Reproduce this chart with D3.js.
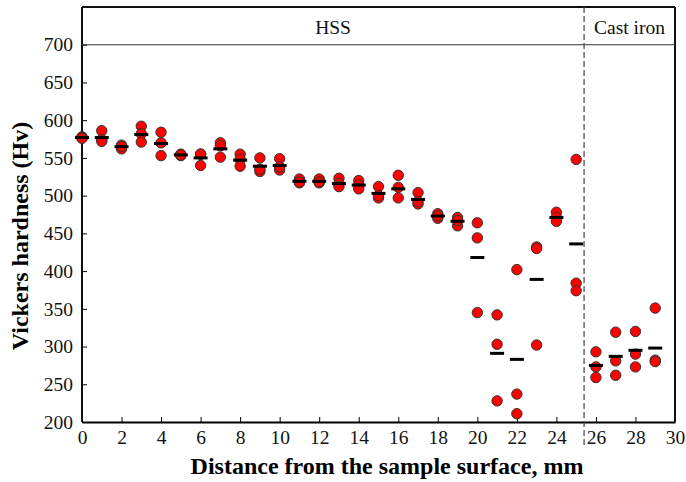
<!DOCTYPE html>
<html>
<head>
<meta charset="UTF-8">
<script src="https://cdn.jsdelivr.net/npm/d3@7/dist/d3.min.js"></script>
<style>
  body { margin: 0; background: #fff; }
  text { font-family: "Liberation Serif", "DejaVu Serif", serif; }
</style>
</head>
<body>
<svg id="chart" width="686" height="482"></svg>
<script>
// distance from surface, mm
const distance = d3.range(0, 30);
// individual hardness readings at each distance (Hv)
const readings = [
  [578, 577, 576], [586, 574, 572], [567, 562, 565], [592, 582, 571], [584, 570, 553],
  [555, 553, 554], [555, 555, 540], [570, 566, 551], [555, 548, 539], [550, 532, 535],
  [549, 534, 538], [522, 517, 518], [522, 517, 518], [523, 516, 512], [520, 514, 509],
  [512, 497, 500], [527, 511, 497], [504, 489, 492], [476, 470, 473], [471, 460, 467],
  [464, 444, 345], [342, 303, 228], [402, 237, 211], [432, 430, 302], [478, 471, 466],
  [548, 384, 374], [293, 273, 259], [319, 281, 262], [320, 290, 273], [351, 282, 280]
];
// mean bars
const meanHv = [577, 577, 565, 581, 569, 554, 550, 562, 547, 539,
                540, 519, 519, 516, 514, 503, 509, 495, 473, 466,
                418, 291, 283, 389, 471, 436, 275, 287, 295, 298];
const xTicks = d3.range(0, 31, 2);
const yTicks = d3.range(200, 701, 50);
const boundary = 25.4;   // HSS / cast iron interface
const regions = [{name: "HSS", from: 0, to: boundary}, {name: "Cast iron", from: boundary, to: 30}];

const W = 686, H = 482;
const m = {top: 7, right: 11, bottom: 60, left: 82};
const svg = d3.select("#chart");

const x = d3.scaleLinear([0, 30], [m.left, W - m.right]);
const y = d3.scaleLinear([200, 750], [H - m.bottom, m.top]);

// axes (ticks pointing inward)
svg.append("g")
  .attr("transform", `translate(0,${H - m.bottom})`)
  .call(d3.axisBottom(x).tickValues(xTicks).tickSizeInner(-5).tickSizeOuter(0).tickPadding(8))
  .call(g => g.select(".domain").attr("stroke-width", 2))
  .call(g => g.selectAll("text").attr("font-size", 19.5).attr("fill", "#111")
              .attr("font-family", "Liberation Serif"));

svg.append("g")
  .attr("transform", `translate(${m.left},0)`)
  .call(d3.axisLeft(y).tickValues(yTicks).tickSizeInner(-5).tickSizeOuter(0).tickPadding(9))
  .call(g => g.select(".domain").remove())
  .call(g => g.selectAll("text").attr("font-size", 19.5).attr("fill", "#111")
              .attr("font-family", "Liberation Serif"));

// frame
svg.append("line").attr("x1", m.left).attr("x2", m.left).attr("y1", m.top).attr("y2", H - m.bottom)
  .attr("stroke", "#111").attr("stroke-width", 2);
svg.append("line").attr("x1", W - m.right).attr("x2", W - m.right).attr("y1", m.top).attr("y2", H - m.bottom)
  .attr("stroke", "#111").attr("stroke-width", 2);
svg.append("line").attr("x1", m.left).attr("x2", W - m.right).attr("y1", m.top).attr("y2", m.top)
  .attr("stroke", "#111").attr("stroke-width", 2);
svg.append("line").attr("x1", m.left).attr("x2", W - m.right).attr("y1", y(700)).attr("y2", y(700))
  .attr("stroke", "#333").attr("stroke-width", 1.2);

// interface line
svg.append("line").attr("x1", x(boundary)).attr("x2", x(boundary))
  .attr("y1", m.top).attr("y2", H - m.bottom + 25)
  .attr("stroke", "#444").attr("stroke-width", 1.2).attr("stroke-dasharray", "6,3");

// region headers
svg.selectAll(".region").data(regions).join("text")
  .attr("x", d => (x(d.from) + x(d.to)) / 2)
  .attr("y", 34)
  .attr("text-anchor", "middle").attr("font-size", 19.5).attr("fill", "#111")
  .text(d => d.name);

// points
const pts = distance.flatMap((d, i) => readings[i].map(v => ({d, v})));
svg.append("g").selectAll("circle").data(pts).join("circle")
  .attr("cx", p => x(p.d)).attr("cy", p => y(p.v)).attr("r", 5.2)
  .attr("fill", "#f00").attr("stroke", "#333").attr("stroke-width", 1);

// mean bars
svg.append("g").selectAll("rect").data(distance).join("rect")
  .attr("x", d => x(d) - 7).attr("y", (d, i) => y(meanHv[i]) - 1.5)
  .attr("width", 14).attr("height", 3).attr("fill", "#000");

// axis titles
svg.append("text")
  .attr("x", 387).attr("y", 474)
  .attr("text-anchor", "middle").attr("font-size", 24).attr("font-weight", "bold")
  .text("Distance from the sample surface, mm");
svg.append("text")
  .attr("transform", "translate(28,236) rotate(-90)")
  .attr("text-anchor", "middle").attr("font-size", 24).attr("font-weight", "bold")
  .text("Vickers hardness (Hv)");
</script>
</body>
</html>
